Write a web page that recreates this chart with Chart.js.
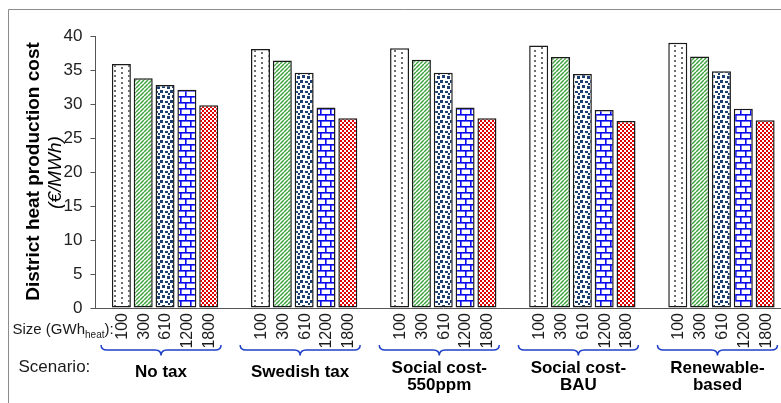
<!DOCTYPE html>
<html>
<head>
<meta charset="utf-8">
<script src="https://cdn.jsdelivr.net/npm/chart.js@4/dist/chart.umd.min.js"></script>
<style>
  html, body { margin: 0; padding: 0; background: #fff; overflow: hidden; width: 781px; height: 403px; }
  #wrap { position: absolute; left: 0; top: 0; width: 800px; height: 403px; }
</style>
</head>
<body>
<div id="wrap"><canvas id="c" width="800" height="403"></canvas></div>
<script>
// Scenarios (x categories) and the plant sizes shown within each scenario
const scenarios = ["No tax", "Swedish tax", "Social cost-550ppm", "Social cost-BAU", "Renewable-based"];
const scenarioLines = [["No tax"], ["Swedish tax"], ["Social cost-", "550ppm"], ["Social cost-", "BAU"], ["Renewable-", "based"]];
const sizeLabels = ["100", "300", "610", "1200", "1800"];

// District heat production cost, €/MWh, one array per plant size
const cost100  = [35.9, 38.1, 38.2, 38.6, 39.0];
const cost300  = [33.8, 36.4, 36.5, 36.9, 37.0];
const cost610  = [32.8, 34.6, 34.6, 34.4, 34.8];
const cost1200 = [32.1, 29.5, 29.5, 29.1, 29.3];
const cost1800 = [29.8, 27.9, 27.9, 27.5, 27.6];

const yTicks = [0, 5, 10, 15, 20, 25, 30, 35, 40];

const FONT = "'Liberation Sans', Arial, Helvetica, sans-serif";
const canvas = document.getElementById('c');
const ctx = canvas.getContext('2d');

function makePattern(w, h, draw) {
  const t = document.createElement('canvas');
  t.width = w; t.height = h;
  const g = t.getContext('2d');
  draw(g, w, h);
  return ctx.createPattern(t, 'repeat');
}

// Fill patterns for the five sizes
const patDots = makePattern(14, 10, (g, w, h) => {
  g.fillStyle = '#fff'; g.fillRect(0, 0, w, h);
  g.fillStyle = '#6e6e6e';
  g.fillRect(2, 0, 2, 2); g.fillRect(2, 5, 2, 2);
  g.fillRect(9, 2, 2, 2); g.fillRect(9, 7, 2, 2);
});
const patStripes = makePattern(4, 4, (g, w, h) => {
  g.fillStyle = '#fff'; g.fillRect(0, 0, w, h);
  g.strokeStyle = '#3fa33f'; g.lineWidth = 1.5;
  for (const k of [-4, 0, 4]) {
    g.beginPath(); g.moveTo(k, 4); g.lineTo(k + 4, 0); g.stroke();
  }
});
const patConfetti = makePattern(10, 10, (g, w, h) => {
  g.fillStyle = '#fff'; g.fillRect(0, 0, w, h);
  g.fillStyle = '#1c3f72';
  g.fillRect(0, 0, 3, 3); g.fillRect(5, 1, 3, 2);
  g.fillRect(2, 5, 3, 3); g.fillRect(7, 6, 3, 3);
  g.fillRect(8, 3, 2, 2);
});
const patBrick = makePattern(10, 12, (g, w, h) => {
  g.fillStyle = '#fff'; g.fillRect(0, 0, w, h);
  g.fillStyle = '#0a0af0';
  g.fillRect(0, 0, w, 1.6); g.fillRect(0, 6, w, 1.6);
  g.fillRect(0, 0, 1.6, 6); g.fillRect(5, 6, 1.6, 6);
});
const patChecker = makePattern(4, 4, (g, w, h) => {
  g.fillStyle = '#fff'; g.fillRect(0, 0, w, h);
  g.fillStyle = '#e00000';
  g.fillRect(0, 0, 2, 2); g.fillRect(2, 2, 2, 2);
});

const series = [cost100, cost300, cost610, cost1200, cost1800];
const fills = [patDots, patStripes, patConfetti, patBrick, patChecker];

// Frame, axis title, per-bar size labels, braces and scenario names
const annotations = {
  id: 'annotations',
  beforeDraw(chart) {
    const g = chart.ctx;
    g.save();
    g.strokeStyle = '#8c8c8c'; g.lineWidth = 1;
    g.beginPath(); g.moveTo(8.5, 403); g.lineTo(8.5, 9.5); g.lineTo(800, 9.5); g.stroke();
    g.restore();
  },
  afterDraw(chart) {
    const g = chart.ctx;
    const xs = chart.scales.x;
    const area = chart.chartArea;
    g.save();

    // y-axis title, two lines
    g.fillStyle = '#000';
    g.textAlign = 'center'; g.textBaseline = 'alphabetic';
    g.save();
    g.translate(39, 171.5); g.rotate(-Math.PI / 2);
    g.font = `bold 19px ${FONT}`;
    g.fillText('District heat production cost', 0, 0);
    g.restore();
    g.save();
    g.translate(61, 172.5); g.rotate(-Math.PI / 2);
    g.font = `italic 19px ${FONT}`;
    g.fillText('(€/MWh)', 0, 0);
    g.restore();

    // size labels under each bar
    g.font = `16px ${FONT}`;
    g.fillStyle = '#1a1a1a';
    chart.data.datasets.forEach((ds, i) => {
      const meta = chart.getDatasetMeta(i);
      meta.data.forEach(bar => {
        g.save();
        g.translate(bar.x, area.bottom + 5);
        g.rotate(-Math.PI / 2);
        g.textAlign = 'right'; g.textBaseline = 'middle';
        g.fillText(sizeLabels[i], 0, 1);
        g.restore();
      });
    });

    // "Size (GWh_heat):" caption
    g.textAlign = 'left'; g.textBaseline = 'alphabetic';
    g.font = `15px ${FONT}`;
    let x = 12.5;
    g.fillText('Size (GWh', x, 334);
    x += g.measureText('Size (GWh').width;
    g.font = `10px ${FONT}`;
    g.fillText('heat', x, 337.5);
    x += g.measureText('heat').width;
    g.font = `15px ${FONT}`;
    g.fillText('):', x, 334);

    // "Scenario:" caption
    g.font = `17px ${FONT}`;
    g.fillText('Scenario:', 18.5, 371.5);

    // braces and scenario names
    scenarios.forEach((s, j) => {
      const cx = xs.getPixelForValue(j) - 4;
      const half = 60;
      g.strokeStyle = '#2040c8'; g.lineWidth = 1.5;
      g.beginPath();
      g.moveTo(cx - half, 345);
      g.quadraticCurveTo(cx - half, 350, cx - half + 6, 350);
      g.lineTo(cx - 6, 350);
      g.quadraticCurveTo(cx, 350, cx, 355.5);
      g.quadraticCurveTo(cx, 350, cx + 6, 350);
      g.lineTo(cx + half - 6, 350);
      g.quadraticCurveTo(cx + half, 350, cx + half, 345);
      g.stroke();

      g.fillStyle = '#000';
      g.font = `bold 17px ${FONT}`;
      g.textAlign = 'center';
      const lines = scenarioLines[j];
      if (lines.length === 1) {
        g.fillText(lines[0], cx, 377);
      } else {
        g.fillText(lines[0], cx, 373);
        g.fillText(lines[1], cx, 390);
      }
    });
    g.restore();
  }
};

new Chart(ctx, {
  type: 'bar',
  data: {
    labels: scenarios,
    datasets: series.map((vals, i) => ({
      label: sizeLabels[i],
      data: vals,
      backgroundColor: fills[i],
      borderColor: '#1a1a1a',
      borderWidth: 1.5,
      borderSkipped: false,
      barPercentage: 0.87,
      categoryPercentage: 0.785
    }))
  },
  options: {
    responsive: false,
    animation: false,
    events: [],
    layout: { padding: { left: 0, right: 9, top: 36, bottom: 95 } },
    plugins: { legend: { display: false }, tooltip: { enabled: false } },
    scales: {
      x: {
        grid: { display: false },
        ticks: { display: false },
        border: { display: true, color: '#555', width: 1 },
        afterFit(s) { s.height = 0; }
      },
      y: {
        min: 0, max: 40,
        afterBuildTicks(s) { s.ticks = yTicks.map(v => ({ value: v })); },
        ticks: { color: '#222', font: { family: FONT, size: 17 }, padding: 8 },
        grid: { drawOnChartArea: false, drawTicks: true, tickLength: 5, color: '#555' },
        border: { display: true, color: '#555', width: 1 },
        afterFit(s) { s.width = 95.5; }
      }
    }
  },
  plugins: [annotations]
});
</script>
</body>
</html>
